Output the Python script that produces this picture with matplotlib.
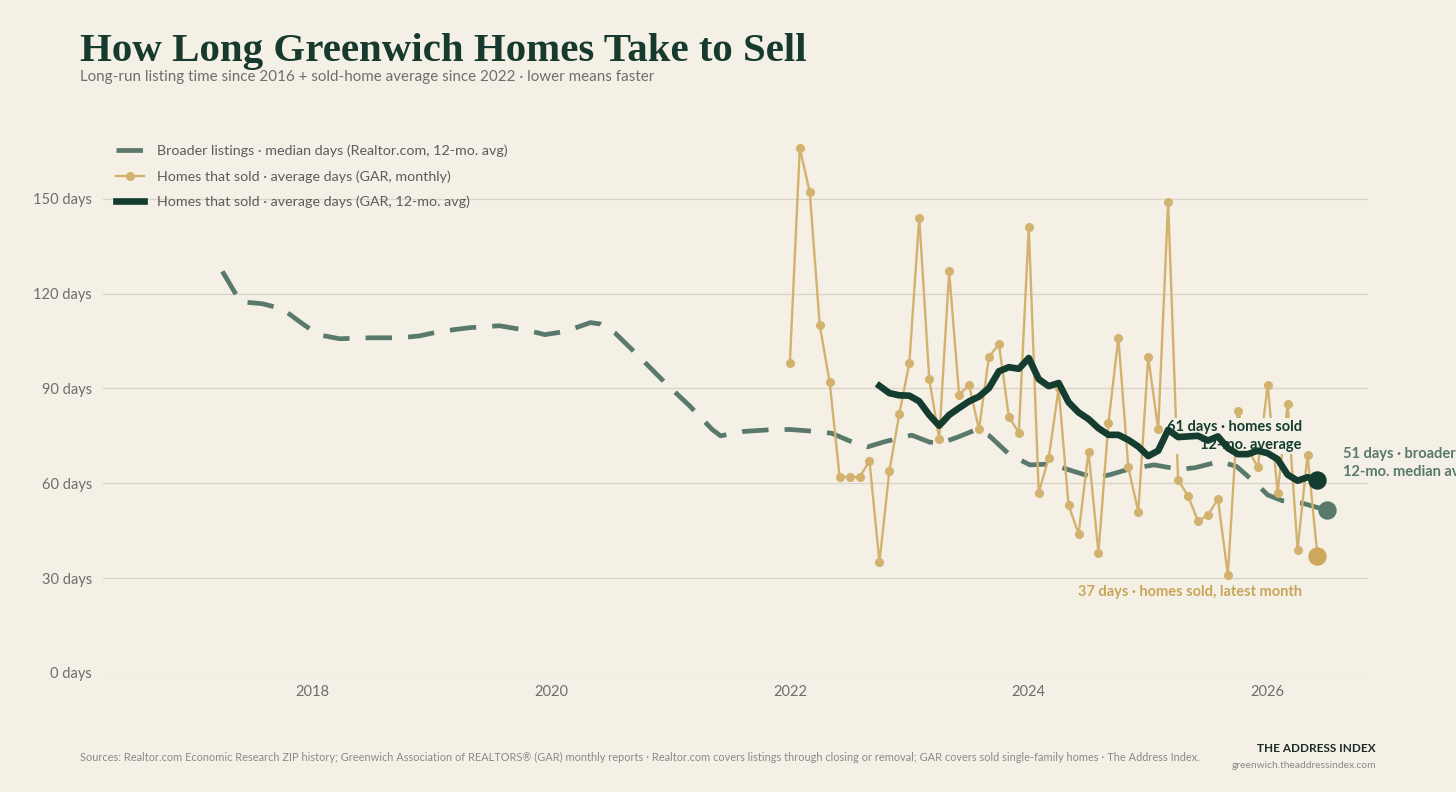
import numpy as np
import matplotlib
matplotlib.use('Agg')
import matplotlib.pyplot as plt

# colours
BG = '#f5f0e6'
DARK = '#143d2f'
TEAL = '#58796b'
GOLD = '#d3b270'
GRAY = '#6e6e6e'
GRID = '#d9d3c7'

# broader listings, Realtor.com 12-mo avg median days (decimal year, days)
broad_t = [2017.25, 2017.40, 2017.58, 2017.75, 2017.90, 2018.05, 2018.23, 2018.49,
           2018.74, 2018.90, 2019.07, 2019.32, 2019.57, 2019.82, 2019.95, 2020.12,
           2020.33, 2020.41, 2020.54, 2020.74, 2020.95, 2021.16, 2021.35, 2021.42,
           2021.62, 2021.83, 2022.00, 2022.21, 2022.35, 2022.50, 2022.65, 2022.80,
           2023.02, 2023.17, 2023.26, 2023.42, 2023.55, 2023.67, 2023.84, 2024.01,
           2024.18, 2024.34, 2024.55, 2024.68, 2024.85, 2025.05, 2025.26, 2025.39,
           2025.60, 2025.74, 2025.90, 2026.00, 2026.12, 2026.30, 2026.50]
broad_v = [127.0, 117.4, 116.8, 115.2, 111.0, 107.0, 105.7, 106.0,
           106.0, 106.6, 108.0, 109.2, 109.8, 108.2, 107.0, 108.0,
           110.8, 110.4, 107.4, 100.0, 92.0, 84.5, 77.0, 75.0,
           76.4, 76.9, 77.0, 76.4, 75.8, 73.4, 71.5, 73.2,
           75.2, 73.0, 72.6, 74.8, 76.8, 75.0, 69.0, 65.8,
           66.1, 64.2, 61.7, 62.7, 64.6, 65.8, 64.4, 64.9,
           66.9, 65.3, 60.0, 56.3, 54.5, 53.6, 51.4]

# homes that sold, GAR monthly average days, Jan 2022 .. Jun 2026
gar_start = 2022.0
gar_monthly = [98, 166, 152, 110, 92, 62, 62, 62, 67, 35, 64, 82,
               98, 144, 93, 74, 127, 88, 91, 77, 100, 104, 81, 76,
               141, 57, 68, 90, 53, 44, 70, 38, 79, 106, 65, 51,
               100, 77, 149, 61, 56, 48, 50, 55, 31, 83, 71, 65,
               91, 57, 85, 39, 69, 37]

# GAR 12-mo average, Oct 2022 .. Jun 2026
gar_avg_start = 2022.75
gar_avg = [90.8, 88.5, 87.8, 87.7, 85.9, 81.6, 78.2, 81.6, 83.8, 85.9, 87.4, 90.1,
           95.4, 96.7, 96.2, 99.6, 92.9, 90.7, 91.7, 85.6, 82.4, 80.3, 77.4, 75.3,
           75.3, 73.7, 71.6, 68.6, 70.3, 76.9, 74.6, 74.8, 75.0, 73.5, 74.8, 71.1,
           69.2, 69.2, 70.3, 69.5, 67.6, 62.7, 60.8, 61.9, 60.9]

y_ticks = [0, 30, 60, 90, 120, 150]
x_ticks = [2018, 2020, 2022, 2024, 2026]

gar_t = gar_start + np.arange(len(gar_monthly)) / 12
gar_avg_t = gar_avg_start + np.arange(len(gar_avg)) / 12

plt.rcParams['font.family'] = ['Lato', 'DejaVu Sans']

fig = plt.figure(figsize=(14.56, 7.92), dpi=100, facecolor=BG)
ax = fig.add_axes([0.0707, 0.1503, 0.8689, 0.6867], facecolor=BG)

ax.plot(broad_t, broad_v, color=TEAL, lw=3.4, linestyle=(0, (5.6, 3.4)),
        zorder=2, label='Broader listings · median days (Realtor.com, 12-mo. avg)')
ax.plot(gar_t, gar_monthly, color=GOLD, lw=1.7, marker='o', ms=5.5,
        zorder=3, label='Homes that sold · average days (GAR, monthly)')
ax.plot(gar_avg_t, gar_avg, color=DARK, lw=4.8, solid_joinstyle='round',
        zorder=6, label='Homes that sold · average days (GAR, 12-mo. avg)')

# end markers
ax.scatter([broad_t[-1]], [broad_v[-1]], s=150, color=TEAL, zorder=7)
ax.scatter([gar_t[-1]], [gar_monthly[-1]], s=150, color='#cda85c', zorder=7)
ax.scatter([gar_avg_t[-1]], [gar_avg[-1]], s=150, color=DARK, zorder=8)

# annotations
box = dict(boxstyle='square,pad=0.15', facecolor=BG, edgecolor='none')
ax.text(gar_avg_t[-1] - 0.13, 75.0, '61 days · homes sold\n12-mo. average',
        ha='right', va='center', fontsize=10.5, fontweight='bold', color=DARK,
        linespacing=1.35, bbox=box, zorder=5)
ax.text(gar_t[-1] - 0.13, 25.7, '37 days · homes sold, latest month',
        ha='right', va='center', fontsize=10.5, fontweight='bold', color='#c9a55a',
        bbox=box, zorder=5)
ax.text(broad_t[-1] + 0.13, 66.5, '51 days · broader listings\n12-mo. median average',
        ha='left', va='center', fontsize=10.5, fontweight='bold', color=TEAL,
        linespacing=1.35, zorder=5, clip_on=False)

ax.set_xlim(2016.25, 2026.84)
ax.set_ylim(0, 172)
ax.set_yticks(y_ticks)
ax.set_yticklabels([f'{v} days' for v in y_ticks])
ax.set_xticks(x_ticks)
ax.set_xticklabels([str(v) for v in x_ticks])
ax.tick_params(length=0, labelsize=10.5, labelcolor=GRAY)
ax.tick_params(axis='y', pad=8)
ax.tick_params(axis='x', pad=9)
ax.grid(axis='y', color=GRID, lw=0.9)
ax.set_axisbelow(True)
for s in ax.spines.values():
    s.set_visible(False)

leg = ax.legend(loc='upper left', bbox_to_anchor=(0.0, 0.995), frameon=False,
                fontsize=10.3, labelcolor='#5c5c5c', handlelength=2.0,
                handletextpad=0.9, labelspacing=0.9)

# title block
fig.text(80 / 1456, 1 - 52 / 792, 'How Long Greenwich Homes Take to Sell',
         fontsize=29.4, fontweight='bold', color='#173a2e', family='Liberation Serif',
         va='center', ha='left')
fig.text(80 / 1456, 1 - 77 / 792,
         'Long-run listing time since 2016 + sold-home average since 2022 · lower means faster',
         fontsize=10.9, color=GRAY, va='center', ha='left')

# footer
fig.text(80 / 1456, 1 - 757 / 792,
         'Sources: Realtor.com Economic Research ZIP history; Greenwich Association of REALTORS® (GAR) '
         'monthly reports · Realtor.com covers listings through closing or removal; GAR covers sold '
         'single-family homes · The Address Index.',
         fontsize=7.9, color='#8a8a8a', va='center', ha='left')
fig.text(1376 / 1456, 1 - 748 / 792, 'THE ADDRESS INDEX', fontsize=8.5,
         fontweight='bold', color='#1c2b25', va='center', ha='right')
fig.text(1376 / 1456, 1 - 765 / 792, 'greenwich.theaddressindex.com', fontsize=7.4,
         color='#8a8a8a', va='center', ha='right')

fig.savefig('out.png', dpi=100, facecolor=BG)
